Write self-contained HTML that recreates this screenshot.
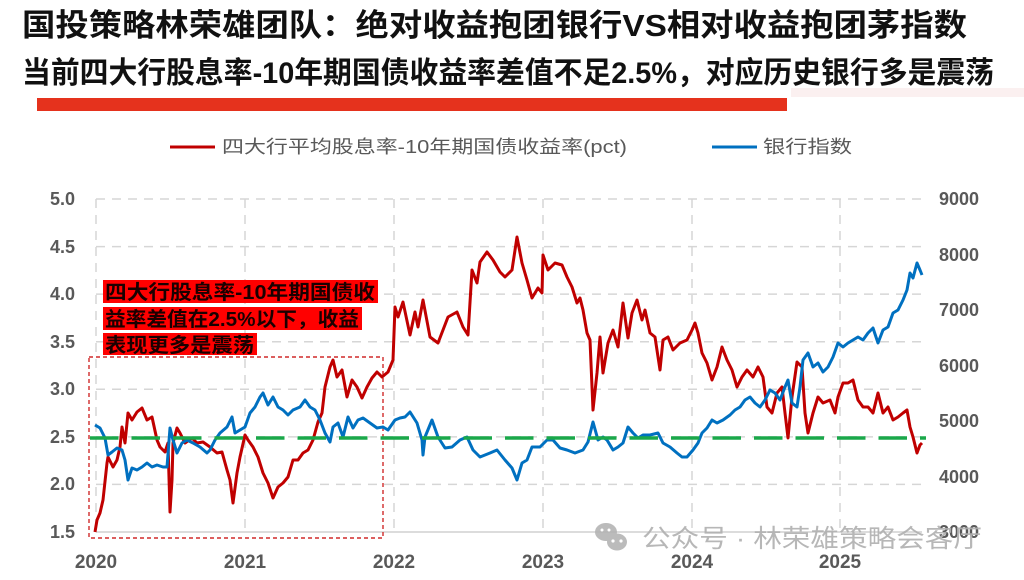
<!DOCTYPE html>
<html><head><meta charset="utf-8"><style>
html,body{margin:0;padding:0;background:#fff;}
svg{display:block;}
</style></head><body>
<svg width="1024" height="580" viewBox="0 0 1024 580" xmlns="http://www.w3.org/2000/svg">
<rect width="1024" height="580" fill="#fff"/>
<!-- title -->
<text x="22" y="36" font-family="Liberation Sans, Noto Sans CJK SC, sans-serif" font-size="31" font-weight="700" fill="#111" textLength="945" lengthAdjust="spacingAndGlyphs">国投策略林荣雄团队：绝对收益抱团银行VS相对收益抱团茅指数</text>
<text x="22" y="83" font-family="Liberation Sans, Noto Sans CJK SC, sans-serif" font-size="30" font-weight="700" fill="#111" textLength="972" lengthAdjust="spacingAndGlyphs">当前四大行股息率-10年期国债收益率差值不足2.5%，对应历史银行多是震荡</text>
<rect x="791" y="88" width="233" height="9" fill="#fbf0f0"/>
<rect x="37" y="98" width="750" height="13" fill="#e5321d"/>

<!-- legend -->
<line x1="170" y1="147" x2="215" y2="147" stroke="#c00000" stroke-width="3"/>
<text x="222" y="153" font-family="Liberation Sans, Noto Sans CJK SC, sans-serif" font-size="18" fill="#595959" textLength="405" lengthAdjust="spacingAndGlyphs">四大行平均股息率-10年期国债收益率(pct)</text>
<line x1="712" y1="147" x2="757" y2="147" stroke="#0070c0" stroke-width="3"/>
<text x="763" y="153" font-family="Liberation Sans, Noto Sans CJK SC, sans-serif" font-size="18" fill="#595959" textLength="89" lengthAdjust="spacingAndGlyphs">银行指数</text>

<!-- gridlines -->
<g stroke="#d6d6d6" stroke-width="1.5" stroke-dasharray="9,7" fill="none">
<line x1="96" y1="199" x2="922" y2="199"/>
<line x1="96" y1="246.6" x2="922" y2="246.6"/>
<line x1="96" y1="294.1" x2="922" y2="294.1"/>
<line x1="96" y1="341.7" x2="922" y2="341.7"/>
<line x1="96" y1="389.3" x2="922" y2="389.3"/>
<line x1="96" y1="436.9" x2="922" y2="436.9"/>
<line x1="96" y1="484.4" x2="922" y2="484.4"/>
<line x1="96" y1="199" x2="96" y2="532"/>
<line x1="245" y1="199" x2="245" y2="532"/>
<line x1="394" y1="199" x2="394" y2="532"/>
<line x1="543" y1="199" x2="543" y2="532"/>
<line x1="692" y1="199" x2="692" y2="532"/>
<line x1="840" y1="199" x2="840" y2="532"/>
</g>
<line x1="96" y1="532" x2="922" y2="532" stroke="#d0d0d0" stroke-width="1.5"/>

<!-- left axis labels -->
<g font-family="Liberation Sans, sans-serif" font-size="18" font-weight="700" fill="#595959" text-anchor="end">
<text x="75" y="205">5.0</text>
<text x="75" y="253">4.5</text>
<text x="75" y="300">4.0</text>
<text x="75" y="348">3.5</text>
<text x="75" y="395">3.0</text>
<text x="75" y="443">2.5</text>
<text x="75" y="490">2.0</text>
<text x="75" y="538">1.5</text>
</g>
<!-- right axis labels -->
<g font-family="Liberation Sans, sans-serif" font-size="18" font-weight="700" fill="#595959">
<text x="939" y="205">9000</text>
<text x="939" y="261">8000</text>
<text x="939" y="316">7000</text>
<text x="939" y="372">6000</text>
<text x="939" y="427">5000</text>
<text x="939" y="483">4000</text>
</g>
<!-- year labels -->
<g font-family="Liberation Sans, sans-serif" font-size="19" font-weight="700" fill="#595959" text-anchor="middle">
<text x="96" y="568">2020</text>
<text x="245" y="568">2021</text>
<text x="394" y="568">2022</text>
<text x="543" y="568">2023</text>
<text x="692" y="568">2024</text>
<text x="840" y="568">2025</text>
</g>

<!-- red dashed box -->
<rect x="89" y="357" width="294" height="181" fill="none" stroke="#d02a2a" stroke-width="1.4" stroke-dasharray="4,3"/>

<!-- red series -->
<polyline fill="none" stroke="#c00000" stroke-width="3" stroke-linejoin="round" points="95,532 97,520 100,513 103,500 107,463 108,457 113,467 117,460 120,447 122,427 125,443 128,413 132,420 137,412 142,408 147,420 152,417 157,440 160,447 165,452 168,443 170,512 172,480 173,443 177,428 180,433 185,443 192,438 197,443 203,442 210,447 217,453 222,452 227,470 230,480 233,503 237,473 240,457 245,435 248,440 253,447 258,457 263,473 268,483 273,498 278,487 283,483 288,477 293,460 298,460 303,453 308,450 313,440 318,422 322,413 325,387 330,367 333,360 337,377 342,370 347,397 352,380 357,387 362,398 367,387 372,378 377,372 382,377 388,372 393,360 395,307 398,317 403,302 410,335 415,312 418,327 423,300 430,337 438,343 443,330 448,317 457,312 463,327 468,335 472,270 477,283 480,262 487,252 493,260 500,272 505,277 512,270 517,237 522,263 527,280 532,298 538,288 542,293 543,255 548,270 555,263 562,265 567,277 572,287 577,303 580,298 583,310 587,333 590,340 593,410 597,373 600,337 603,373 608,343 613,330 618,347 623,303 628,338 632,313 637,300 642,320 645,310 650,333 655,337 660,370 663,340 668,337 673,350 680,343 687,340 692,330 695,323 698,333 702,353 707,363 712,380 717,367 722,347 727,360 732,370 737,387 742,377 747,370 753,377 758,367 763,377 767,407 772,413 777,393 782,387 785,413 788,438 792,397 797,362 802,367 805,413 808,433 813,413 818,397 823,403 830,400 835,413 838,397 843,383 848,383 853,380 858,400 863,407 868,407 873,413 878,393 883,413 888,407 893,420 898,417 903,413 907,410 910,427 913,437 917,453 920,445 922,443"/>

<!-- blue series -->
<polyline fill="none" stroke="#0070c0" stroke-width="3" stroke-linejoin="round" points="95,425 100,428 105,438 108,455 112,452 117,448 122,450 125,460 128,480 132,468 137,470 142,467 147,463 152,467 157,465 163,467 167,467 170,428 173,440 177,453 182,443 187,440 193,443 200,447 207,453 210,450 215,440 220,433 227,427 232,417 235,433 240,430 245,427 250,413 255,407 260,397 263,393 268,405 273,397 278,407 283,410 288,415 293,410 300,407 305,400 310,407 315,410 320,420 325,433 330,442 333,427 338,423 343,437 348,417 353,428 358,420 363,418 370,423 377,428 383,427 388,430 395,420 400,418 405,417 410,412 417,423 422,440 423,455 425,437 432,420 438,437 445,448 452,447 460,440 467,437 473,450 480,457 490,453 497,450 505,460 512,468 517,480 522,463 527,460 532,447 540,447 547,440 553,440 560,448 567,450 575,453 583,450 588,442 593,422 598,440 603,437 607,440 613,450 618,447 623,443 628,427 633,433 638,438 643,435 650,435 658,433 663,443 670,447 677,453 682,457 687,457 693,450 698,443 702,433 707,428 712,420 717,423 723,420 730,415 735,410 740,407 745,400 750,397 755,403 760,407 765,400 770,390 775,393 780,400 785,387 788,380 792,403 797,407 800,387 803,360 808,353 813,367 818,363 823,372 828,367 833,357 838,343 843,347 848,343 853,340 858,337 863,340 868,333 873,328 878,343 883,330 888,327 893,313 898,310 903,300 907,290 910,273 913,278 917,263 920,270 922,275"/>

<!-- green 2.5 line -->
<line x1="90" y1="438" x2="926" y2="438" stroke="#1aa84a" stroke-width="3.5" stroke-dasharray="28.5,13"/>

<!-- annotation -->
<rect x="103" y="280" width="275" height="23" fill="#ff0000"/>
<rect x="103" y="307" width="259" height="23" fill="#ff0000"/>
<rect x="103" y="333" width="154" height="22" fill="#ff0000"/>
<g font-family="Liberation Sans, Noto Sans CJK SC, sans-serif" font-size="20" font-weight="700" fill="#1a0000">
<text x="105" y="299" textLength="270" lengthAdjust="spacingAndGlyphs">四大行股息率-10年期国债收</text>
<text x="105" y="326" textLength="254" lengthAdjust="spacingAndGlyphs">益率差值在2.5%以下，收益</text>
<text x="105" y="352" textLength="149" lengthAdjust="spacingAndGlyphs">表现更多是震荡</text>
</g>

<!-- 3000 label -->
<text x="939" y="538" font-family="Liberation Sans, sans-serif" font-size="18" font-weight="700" fill="#595959">3000</text>

<!-- watermark -->
<g fill="#b4b4b4" opacity="0.9">
<ellipse cx="606" cy="532" rx="11" ry="9"/>
<ellipse cx="617" cy="542" rx="10" ry="8.5"/>
<circle cx="613" cy="541" r="1.6" fill="#fff"/>
<circle cx="621" cy="541" r="1.6" fill="#fff"/>
<circle cx="602" cy="530" r="1.5" fill="#fff"/>
<circle cx="609" cy="530" r="1.5" fill="#fff"/>
</g>
<text x="642" y="547" font-family="Liberation Sans, Noto Sans CJK SC, sans-serif" font-size="25" fill="#b0b0b0" opacity="0.9" textLength="340" lengthAdjust="spacingAndGlyphs">公众号 · 林荣雄策略会客厅</text>
</svg>
</body></html>
